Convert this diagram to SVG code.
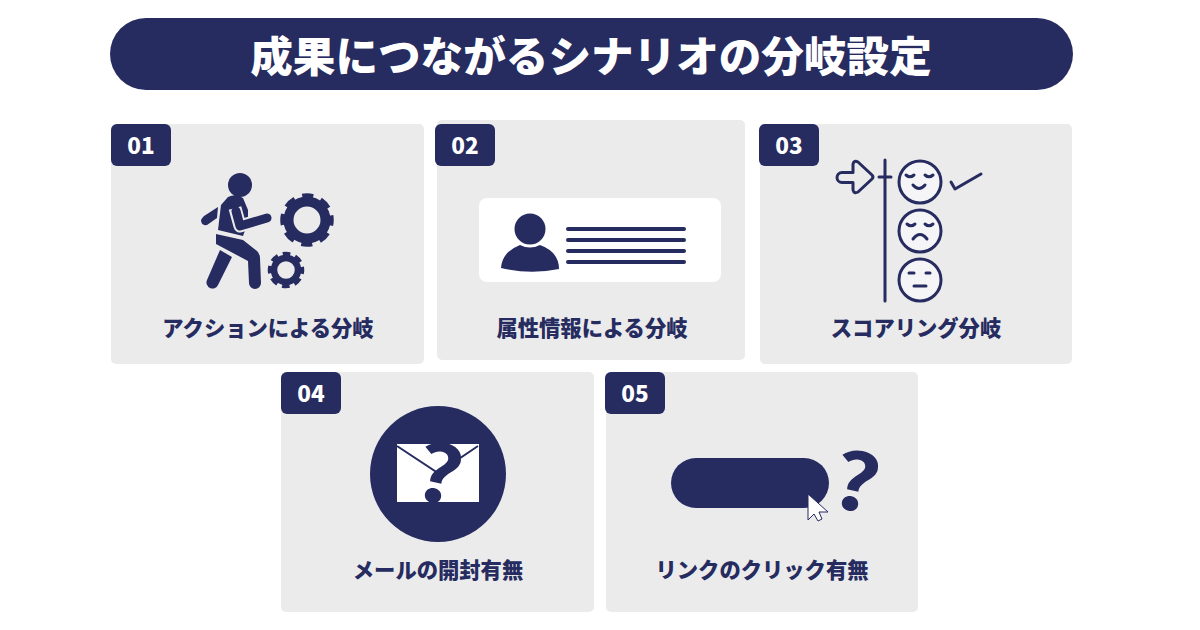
<svg xmlns="http://www.w3.org/2000/svg" width="1200" height="630" viewBox="0 0 1200 630">
<style>
text{font-family:"Noto Sans CJK JP","Noto Sans",sans-serif;font-weight:900;text-anchor:middle}
.card{fill:#ebebec}
.badge,.n{fill:#262b60}
.num{fill:#fff;font-size:22.500px}
.lab{fill:#262b60;font-size:21.300px}
.s{fill:none;stroke:#262b60;stroke-width:3;stroke-linecap:round;stroke-linejoin:round}
.f{fill:#f5f5f7;stroke:#262b60;stroke-width:3}
.l{stroke:#262b60;stroke-width:4;stroke-linecap:round}
.q{fill:#262b60;font-size:78px;font-weight:700}
</style>
<rect width="1200" height="630" fill="#fff"/>
<g id="title">
<rect x="110" y="18" width="963" height="72" rx="36" class="n"/>
<text x="591" y="72" font-size="42.600" fill="#fff">成果につながるシナリオの分岐設定</text>
</g>
<g id="node-01">
<rect x="111" y="124" width="313" height="240" rx="5" class="card"/>
<rect x="111" y="124" width="60" height="42" rx="6" class="badge"/>
<text x="141" y="154" class="num">01</text>
<circle cx="240" cy="185" r="12" class="n"/>
<path class="n" d="M218,207 L217,218 L207,225 Q201,226 201,220 Q202,218 204,216 Z"/>
<path class="n" d="M228,197 Q236,193 243,198 L248,210 L248,222 L243,236 L218,230 L221,205 Z"/>
<path d="M235,208 L240,226 L267,218" fill="none" stroke="#ebebec" stroke-width="13" stroke-linejoin="round"/>
<path d="M236,211 L240,226 L267,218" fill="none" stroke="#262b60" stroke-width="9" stroke-linecap="round" stroke-linejoin="round"/>
<path class="n" d="M216,234 L243,240 L257,251 Q260,254 260,258 L261,283 A6,6 0 0 1 249,283 L248,261 L216,244 Z"/>
<path class="n" d="M220,250 L232,257 L218,285 A6,6 0 0 1 207,280 Z"/>
<circle cx="307" cy="220" r="18.500" fill="none" stroke="#262b60" stroke-width="10"/>
<circle cx="307" cy="220" r="24" fill="none" stroke="#262b60" stroke-width="5.500" stroke-dasharray="11 7.850" stroke-dashoffset="5.500"/>
<circle cx="286" cy="270" r="12" fill="none" stroke="#262b60" stroke-width="6.500"/>
<circle cx="286" cy="270" r="16" fill="none" stroke="#262b60" stroke-width="4.500" stroke-dasharray="7.500 5.070" stroke-dashoffset="3.750"/>
<text x="268" y="336" class="lab">アクションによる分岐</text>
</g>
<g id="node-02">
<rect x="437" y="120" width="308" height="240" rx="5" class="card"/>
<rect x="435" y="124" width="60" height="42" rx="6" class="badge"/>
<text x="465" y="154" class="num">02</text>
<rect x="479" y="198" width="242" height="84" rx="8" fill="#fff"/>
<circle cx="530" cy="229" r="15.500" class="n"/>
<path class="n" d="M501,268 Q502,252 520,245 Q530,250 540,245 Q559,252 559,269 Q530,275 501,268 Z"/>
<path class="l" d="M568,229 H684 M568,240 H684 M568,251 H684 M568,262 H684"/>
<text x="592" y="336" class="lab">属性情報による分岐</text>
</g>
<g id="node-03">
<rect x="760" y="124" width="312" height="240" rx="5" class="card"/>
<rect x="759" y="124" width="60" height="42" rx="6" class="badge"/>
<text x="789" y="154" class="num">03</text>
<path class="s" d="M885,160 V301 M879,177 H891"/>
<path class="s" d="M842,172.500 H853 V164 Q854,160 858,162 L872,175 Q874,177 872,179 L858,192 Q854,194 853,190 V182.500 H842 A5,5 0 0 1 842,172.500 Z"/>
<circle cx="920" cy="182" r="21" class="f"/>
<circle cx="920" cy="231" r="21" class="f"/>
<circle cx="920" cy="280" r="21" class="f"/>
<path class="s" d="M906,175 Q910,178.500 914,175 M925,175 Q929,178.500 933,175 M913,185 Q919,192 925,185"/>
<path class="s" d="M907,224 Q911,227.500 915,224 M925,224 Q929,227.500 933,224 M913,239 Q920,230 927,239"/>
<path class="s" d="M909,273 H914 M926,273 H930 M914,286 H926"/>
<path class="s" d="M951,182 L955,189 L981,174"/>
<text x="916" y="336" class="lab">スコアリング分岐</text>
</g>
<g id="node-04">
<rect x="281" y="372" width="313" height="240" rx="5" class="card"/>
<rect x="281" y="372" width="60" height="42" rx="6" class="badge"/>
<text x="311" y="402" class="num">04</text>
<circle cx="438" cy="474" r="68" class="n"/>
<rect x="397" y="444" width="82" height="58" fill="#fff"/>
<path d="M397,446 L438,473 L478,446" fill="none" stroke="#262b60" stroke-width="2"/>
<text x="0" y="0" class="q" transform="translate(433,502) rotate(12) scale(1.15,1)">?</text>
<text x="438" y="578" class="lab">メールの開封有無</text>
</g>
<g id="node-05">
<rect x="606" y="372" width="312" height="240" rx="5" class="card"/>
<rect x="605" y="372" width="60" height="42" rx="6" class="badge"/>
<text x="635" y="402" class="num">05</text>
<rect x="671" y="458" width="158" height="50" rx="25" class="n"/>
<path d="M808,494 L828,512 L819,512 L822,519 L818,521 L814,514 L808,520 Z" fill="#fff" stroke="#262b60" stroke-width="1"/>
<text x="0" y="0" class="q" transform="translate(850,510) rotate(12) scale(1.15,1)">?</text>
<text x="762" y="578" class="lab">リンクのクリック有無</text>
</g>
</svg>
